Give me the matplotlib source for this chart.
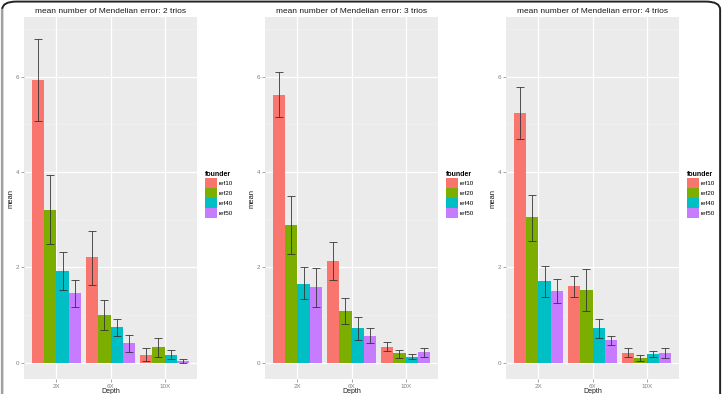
import numpy as np
import matplotlib
matplotlib.use("Agg")
import matplotlib.pyplot as plt
from matplotlib.patches import FancyBboxPatch, Patch
from matplotlib.lines import Line2D

plt.rcParams['font.family'] = ['Liberation Sans', 'DejaVu Sans']

# data
depths = ["2X", "6X", "10X"]
founders = ["ref10", "ref20", "ref40", "ref50"]
colors = ["#F8766D", "#7CAE00", "#00BFC4", "#C77CFF"]
titles = ["mean number of Mendelian error: 2 trios",
          "mean number of Mendelian error: 3 trios",
          "mean number of Mendelian error: 4 trios"]

# mean per founder, each list over depths 2X, 6X, 10X
mean_2trios = {"ref10": [5.92, 2.22, 0.17], "ref20": [3.21, 1.00, 0.34],
               "ref40": [1.92, 0.76, 0.17], "ref50": [1.46, 0.42, 0.04]}
low_2trios = {"ref10": [5.07, 1.63, 0.04], "ref20": [2.49, 0.68, 0.13],
              "ref40": [1.52, 0.57, 0.07], "ref50": [1.18, 0.23, 0.00]}
high_2trios = {"ref10": [6.79, 2.77, 0.30], "ref20": [3.93, 1.31, 0.53],
               "ref40": [2.33, 0.91, 0.26], "ref50": [1.73, 0.59, 0.08]}

mean_3trios = {"ref10": [5.62, 2.14, 0.34], "ref20": [2.89, 1.08, 0.20],
               "ref40": [1.66, 0.72, 0.13], "ref50": [1.58, 0.57, 0.22]}
low_3trios = {"ref10": [5.15, 1.74, 0.24], "ref20": [2.28, 0.82, 0.10],
              "ref40": [1.33, 0.48, 0.07], "ref50": [1.18, 0.42, 0.12]}
high_3trios = {"ref10": [6.09, 2.53, 0.43], "ref20": [3.49, 1.35, 0.27],
               "ref40": [2.00, 0.96, 0.19], "ref50": [1.98, 0.73, 0.31]}

mean_4trios = {"ref10": [5.23, 1.60, 0.21], "ref20": [3.05, 1.52, 0.10],
               "ref40": [1.71, 0.72, 0.18], "ref50": [1.50, 0.48, 0.20]}
low_4trios = {"ref10": [4.69, 1.37, 0.13], "ref20": [2.56, 1.08, 0.03],
              "ref40": [1.37, 0.51, 0.12], "ref50": [1.25, 0.38, 0.11]}
high_4trios = {"ref10": [5.79, 1.82, 0.30], "ref20": [3.52, 1.97, 0.16],
               "ref40": [2.03, 0.91, 0.25], "ref50": [1.75, 0.57, 0.30]}

panels = [(mean_2trios, low_2trios, high_2trios),
          (mean_3trios, low_3trios, high_3trios),
          (mean_4trios, low_4trios, high_4trios)]

fig = plt.figure(figsize=(7.23, 3.94), dpi=100)
lefts = [24 / 723, 265 / 723, 506 / 723]
W, H = 723, 394
barw = 0.9 / len(founders)
x = np.arange(1, len(depths) + 1)

for p, (means, lows, highs) in enumerate(panels):
    ax = fig.add_axes([lefts[p], 1 - 379 / H, 173 / W, 362 / H])
    ax.set_facecolor("#EBEBEB")
    for k in [1, 3, 5, 7]:
        ax.axhline(k, color="#F2F2F2", lw=0.5, zorder=0)
    for k in [0, 2, 4, 6]:
        ax.axhline(k, color="white", lw=0.9, zorder=0)
    for xi in x:
        ax.axvline(xi, color="white", lw=0.9, zorder=0)
    for i, f in enumerate(founders):
        xs = x - 0.45 + barw * (i + 0.5)
        m = np.array(means[f])
        lo = np.array(lows[f])
        hi = np.array(highs[f])
        ax.bar(xs, m, width=barw, color=colors[i], zorder=2)
        ax.errorbar(xs, m, yerr=[m - lo, hi - m], fmt="none", ecolor="#333333",
                    elinewidth=0.7, capsize=2.8, capthick=0.7, alpha=0.85, zorder=3)
    ax.set_xlim(0.4, 3.6)
    ax.set_ylim(-0.34, 7.25)
    ax.set_xticks(x)
    ax.set_xticklabels(depths)
    ax.set_yticks([0, 2, 4, 6])
    ax.tick_params(labelsize=4.5, colors="#7F7F7F", length=2, width=0.5, pad=1.5)
    for s in ax.spines.values():
        s.set_visible(False)
    ax.set_title(titles[p], fontsize=6, pad=3, color="#1A1A1A")
    ax.set_xlabel("Depth", fontsize=5, labelpad=-0.5, color="#1A1A1A")
    ax.set_ylabel("mean", fontsize=5.5, labelpad=0.5, color="#1A1A1A")
    handles = [Patch(facecolor=c, label=f) for c, f in zip(colors, founders)]
    leg = ax.legend(handles=handles, title="founder", loc="center left",
                    bbox_to_anchor=(1.03, 0.51), frameon=False, fontsize=4.5,
                    title_fontsize=5, handlelength=2.0, handleheight=2.1,
                    handletextpad=0.2, labelspacing=0.0, borderaxespad=0)
    leg.get_title().set_fontweight("bold")
    leg._legend_box.align = "left"

# frame around the figure
frame = FancyBboxPatch((0.003, -0.1), 0.993, 1.096, boxstyle="round,pad=0,rounding_size=0.02",
                       transform=fig.transFigure, fill=False, edgecolor="#222222", lw=1.4)
fig.patches.append(frame)
fig.lines.append(Line2D([0.003, 0.003], [0.0, 0.975], transform=fig.transFigure,
                        color="#A0A0A0", lw=1.6))

fig.savefig("out.png", dpi=100)
